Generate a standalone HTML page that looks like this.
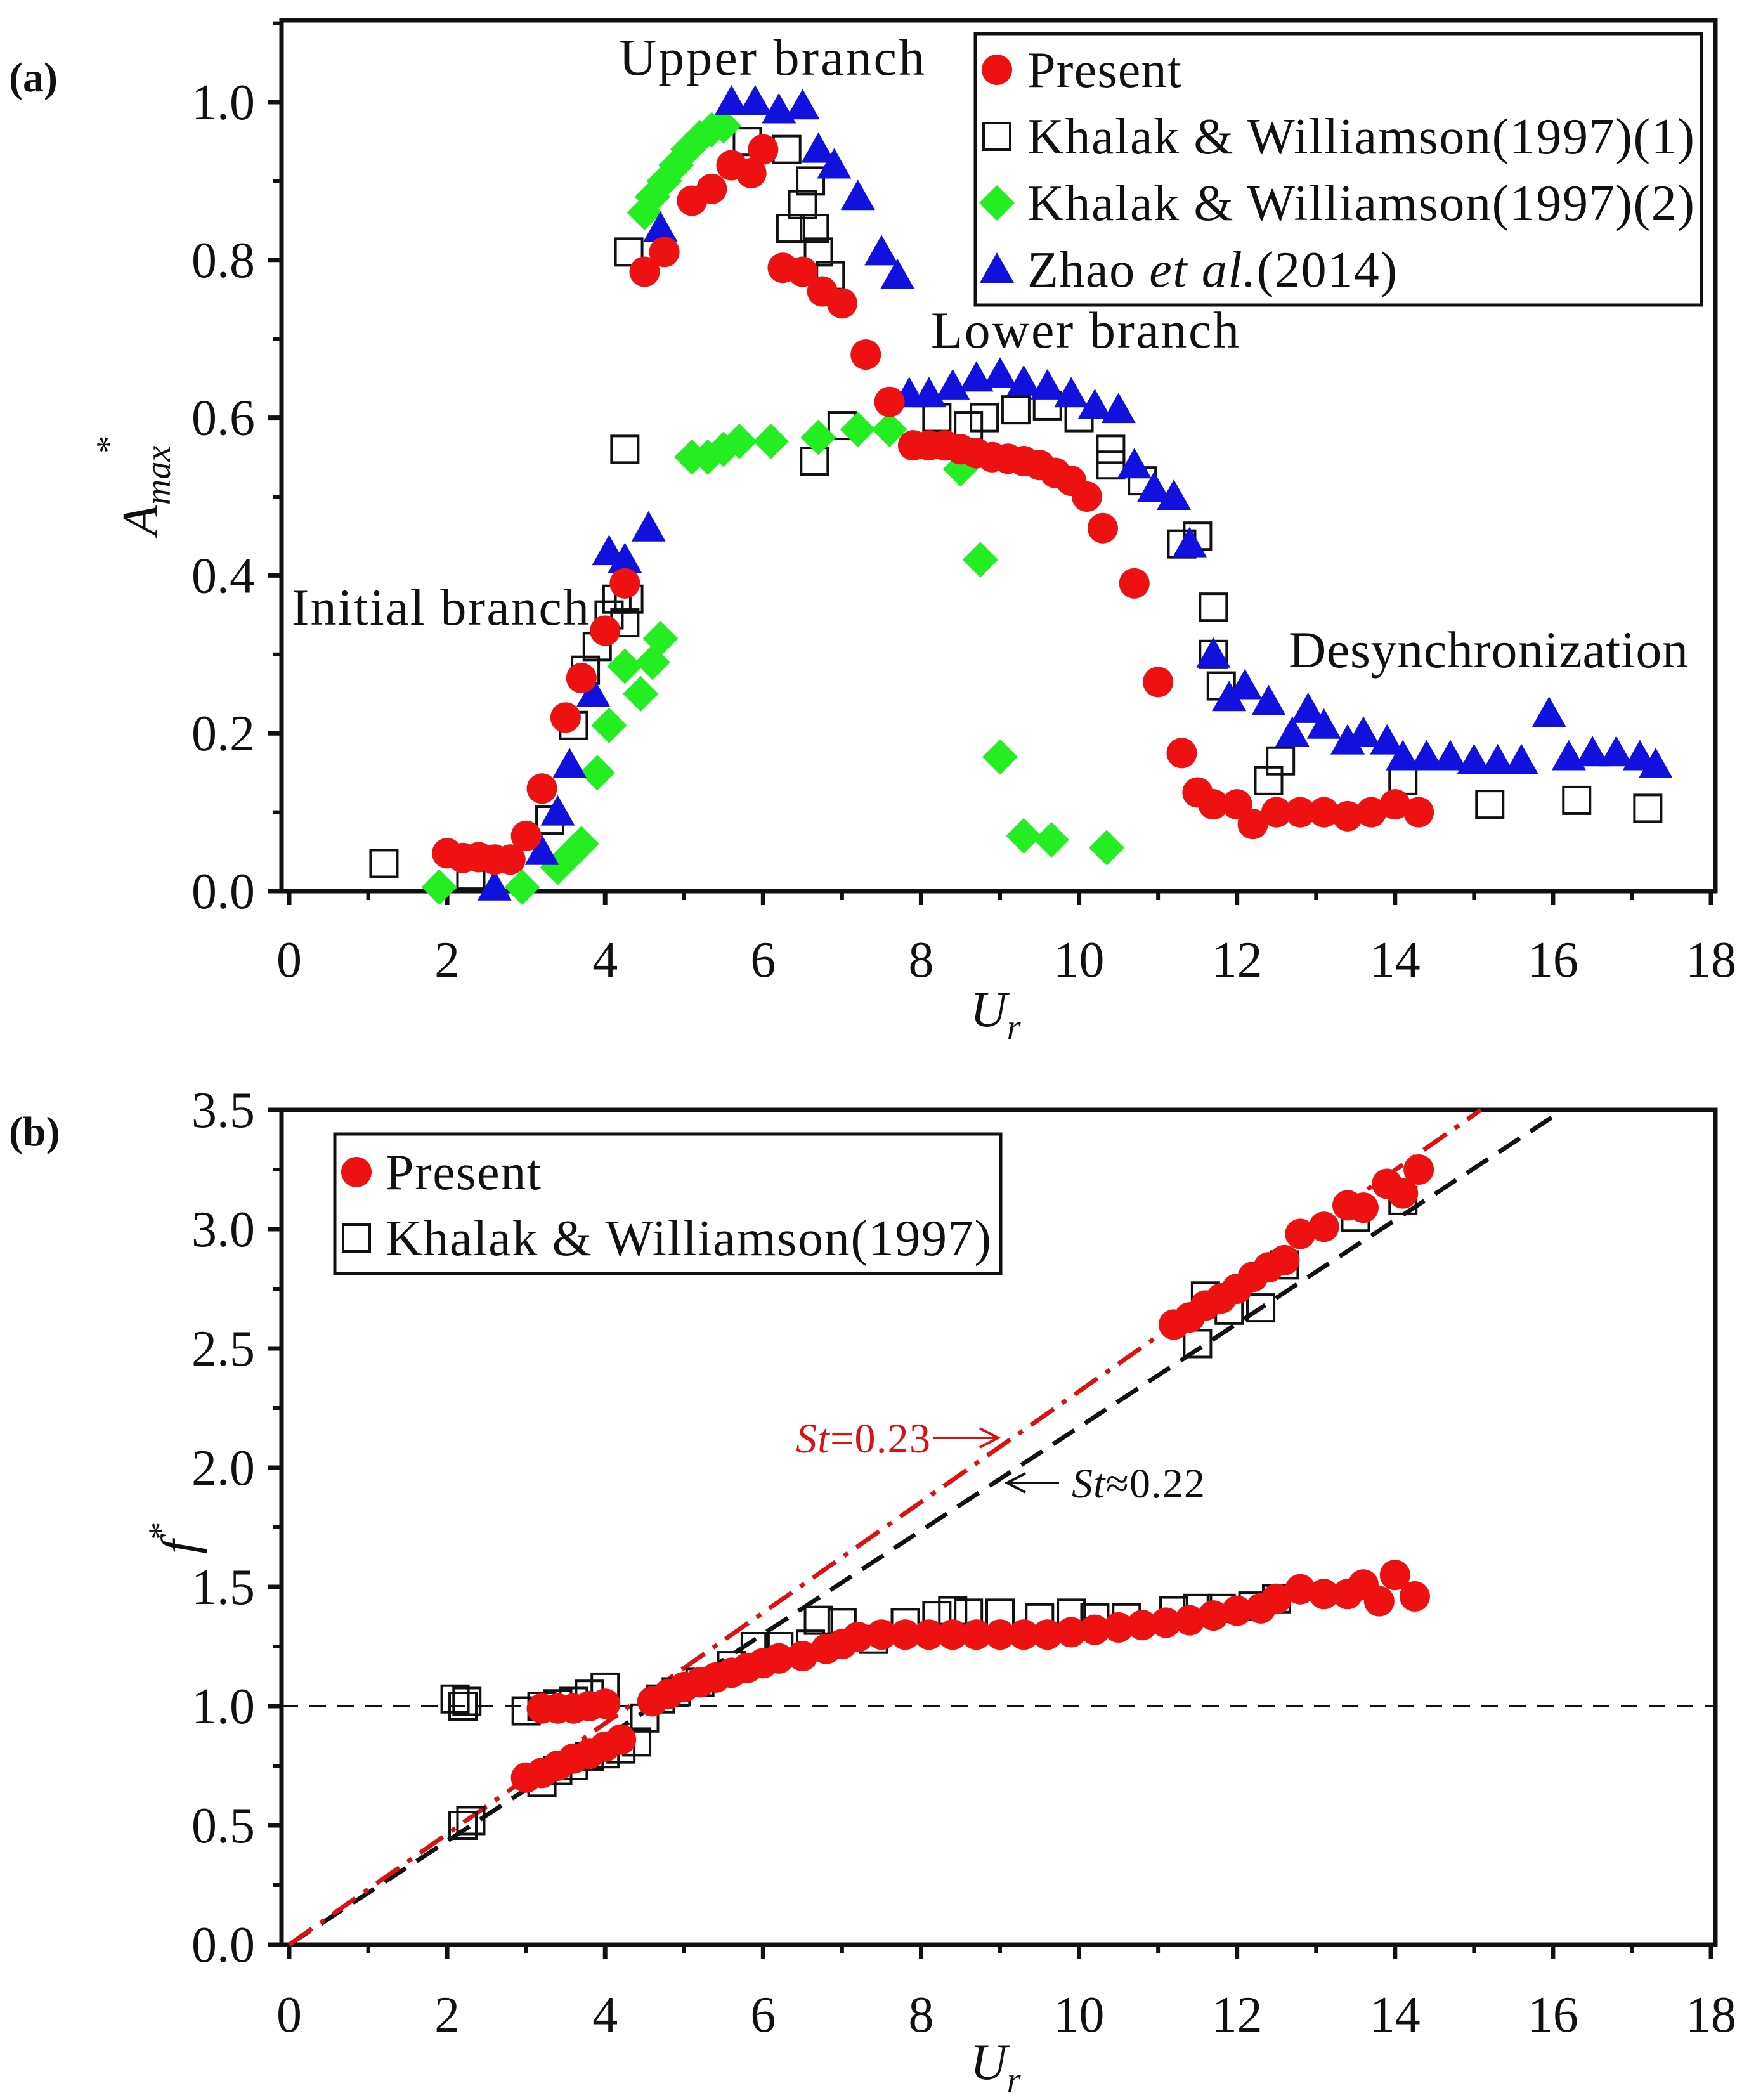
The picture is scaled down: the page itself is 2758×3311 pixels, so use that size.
<!DOCTYPE html>
<html><head><meta charset="utf-8"><style>
html,body{margin:0;padding:0;background:#fff}
svg{display:block}
text{font-family:"Liberation Serif",serif;fill:#111}
</style></head><body>
<svg id="fig" xmlns="http://www.w3.org/2000/svg" width="2758" height="3311" viewBox="0 0 2758 3311">
<g id="pa"></g>
<g id="pb"></g>
</svg>
<script>
// ---------- Panel (a) data ----------
const aPresentX=[2.0,2.2,2.4,2.6,2.8,3.0,3.2,3.5,3.7,4.0,4.25,4.5,4.75,5.1,5.35,5.6,5.85,6.0,6.25,6.5,6.75,7.0,7.3,7.6,7.9,8.1,8.3,8.5,8.7,8.9,9.1,9.3,9.5,9.7,9.9,10.1,10.3,10.7,11.0,11.3,11.5,11.7,12.0,12.2,12.5,12.8,13.1,13.4,13.7,14.0,14.3];
const aPresentY=[0.048,0.042,0.043,0.04,0.04,0.07,0.13,0.22,0.27,0.33,0.39,0.785,0.81,0.875,0.89,0.92,0.91,0.94,0.79,0.785,0.76,0.745,0.68,0.62,0.565,0.565,0.565,0.56,0.555,0.55,0.548,0.545,0.54,0.53,0.52,0.5,0.46,0.39,0.265,0.175,0.125,0.11,0.11,0.085,0.1,0.1,0.1,0.095,0.1,0.11,0.1];
const aKW1X=[1.2,2.3,3.3,3.6,3.75,3.9,4.05,4.15,4.25,4.3,4.3,4.25,5.8,6.3,6.35,6.5,6.6,6.65,6.7,6.85,6.65,7.0,8.2,8.6,8.8,9.2,9.6,10.0,10.4,10.4,10.8,11.3,11.5,11.7,11.7,11.8,12.4,12.55,14.1,15.2,16.3,17.2];
const aKW1Y=[0.035,0.02,0.09,0.21,0.28,0.31,0.35,0.37,0.34,0.37,0.81,0.56,0.95,0.94,0.84,0.87,0.9,0.84,0.81,0.78,0.545,0.59,0.6,0.59,0.6,0.61,0.615,0.6,0.56,0.54,0.52,0.44,0.45,0.36,0.3,0.26,0.14,0.165,0.14,0.11,0.115,0.105];
const aKW2X=[1.9,2.95,3.4,3.6,3.7,3.9,4.05,4.25,4.45,4.6,4.7,4.5,4.6,4.75,4.9,5.05,5.2,5.35,5.5,5.1,5.3,5.5,5.7,6.1,6.7,7.2,7.6,8.5,8.75,9.0,9.3,9.65,10.35];
const aKW2Y=[0.005,0.005,0.03,0.05,0.06,0.15,0.21,0.285,0.25,0.29,0.32,0.86,0.88,0.9,0.92,0.94,0.955,0.965,0.97,0.55,0.55,0.56,0.57,0.57,0.575,0.585,0.585,0.535,0.42,0.17,0.07,0.065,0.055];
const aZhaoX=[2.6,3.2,3.4,3.55,3.85,4.05,4.25,4.55,4.7,5.6,5.9,6.2,6.5,6.7,6.9,7.2,7.5,7.7,7.85,8.1,8.4,8.7,9.0,9.3,9.6,9.9,10.2,10.5,10.7,10.95,11.2,11.4,11.7,11.9,12.1,12.4,12.7,12.9,13.1,13.4,13.6,13.9,14.1,14.4,14.7,15.0,15.3,15.6,15.95,16.2,16.5,16.8,17.1,17.3];
const aZhaoY=[0.005,0.05,0.1,0.16,0.25,0.43,0.42,0.46,0.84,1.0,1.0,0.99,0.995,0.94,0.92,0.88,0.81,0.78,0.63,0.63,0.64,0.65,0.655,0.645,0.64,0.63,0.615,0.61,0.54,0.51,0.5,0.44,0.3,0.245,0.26,0.24,0.2,0.23,0.21,0.19,0.2,0.19,0.17,0.17,0.17,0.165,0.165,0.165,0.225,0.17,0.175,0.175,0.17,0.16];
const aXTicks=[0,2,4,6,8,10,12,14,16,18];
const aYTicks=[0.0,0.2,0.4,0.6,0.8,1.0];
// ---------- Panel (b) data ----------
const bPresentX=[3.0,3.2,3.4,3.6,3.8,4.0,4.2,3.2,3.4,3.6,3.8,4.0,4.6,4.8,5.0,5.2,5.4,5.6,5.8,6.0,6.2,6.5,6.8,7.0,7.2,7.5,7.8,8.1,8.4,8.7,9.0,9.3,9.6,9.9,10.2,10.5,10.8,11.1,11.4,11.7,12.0,12.3,12.5,12.8,13.1,13.4,13.6,13.8,14.0,14.25,11.2,11.4,11.6,11.8,12.0,12.2,12.4,12.6,12.8,13.1,13.4,13.6,13.9,14.1,14.3];
const bPresentY=[0.7,0.72,0.75,0.78,0.8,0.83,0.86,0.99,0.99,0.99,1.0,1.01,1.02,1.05,1.08,1.1,1.12,1.14,1.16,1.18,1.2,1.21,1.24,1.26,1.29,1.3,1.3,1.3,1.3,1.3,1.3,1.3,1.3,1.31,1.32,1.33,1.34,1.35,1.36,1.38,1.4,1.41,1.45,1.49,1.47,1.47,1.51,1.44,1.55,1.46,2.6,2.63,2.68,2.71,2.75,2.8,2.84,2.87,2.98,3.01,3.1,3.09,3.19,3.15,3.25];
const bKWX=[2.1,2.2,2.25,2.2,2.3,3.0,3.2,3.4,3.6,3.8,4.0,3.2,3.4,3.6,3.8,4.0,4.2,4.4,4.5,4.7,4.9,5.2,5.6,5.9,6.2,6.6,6.7,7.0,7.4,7.8,8.2,8.4,8.6,9.0,9.5,9.9,10.2,10.6,11.2,11.5,11.8,12.2,12.5,11.5,11.6,11.9,12.3,12.6,13.5,14.1];
const bKWY=[1.03,1.0,1.02,0.5,0.52,0.98,1.0,1.01,1.02,1.05,1.08,0.68,0.73,0.75,0.79,0.8,0.82,0.85,0.95,1.03,1.06,1.1,1.17,1.25,1.25,1.26,1.36,1.35,1.28,1.35,1.38,1.4,1.39,1.39,1.37,1.39,1.37,1.37,1.4,1.41,1.41,1.42,1.45,2.52,2.72,2.66,2.67,2.85,3.05,3.12];
const bStRed=[0.232];
const bStBlack=[0.217];
const bXTicks=[0,2,4,6,8,10,12,14,16,18];
const bYTicks=[0.0,0.5,1.0,1.5,2.0,2.5,3.0,3.5];

const NS='http://www.w3.org/2000/svg';
function mk(parent,tag,attrs,txt){const e=document.createElementNS(NS,tag);for(const k in attrs)e.setAttribute(k,attrs[k]);if(txt!==undefined)e.textContent=txt;parent.appendChild(e);return e;}

const L=444,R=2705,X0=456,X18=2698;
function xs(u){return X0+u*(X18-X0)/18;}
const ya=v=>1405-v*1244;
const yb=v=>3066-v*376;

function marker(g,type,cx,cy,name){
  let e;
  if(type==='circle'){e=mk(g,'circle',{cx:cx,cy:cy,r:24,fill:'#ee1111'});}
  else if(type==='square'){e=mk(g,'rect',{x:cx-21,y:cy-21,width:42,height:42,fill:'none',stroke:'#111','stroke-width':4});}
  else if(type==='diamond'){e=mk(g,'polygon',{points:`${cx},${cy-28} ${cx+28},${cy} ${cx},${cy+28} ${cx-28},${cy}`,fill:'#22ee22'});}
  else {e=mk(g,'polygon',{points:`${cx},${cy-27} ${cx+27},${cy+21} ${cx-27},${cy+21}`,fill:'#1111dd'});}
  
  
  return e;
}

function axes(g,top,bottom,yf,yTicks,yMinor,yDec,xTicks,xLabelY,ymax){
  const f=mk(g,'rect',{x:L,y:top,width:R-L,height:bottom-top,fill:'none',stroke:'#111','stroke-width':7});
  
  
  for(let u=0;u<=18;u++){
    const major=u%2===0;
    const t=mk(g,'line',{x1:xs(u),x2:xs(u),y1:bottom,y2:bottom+(major?22:14),stroke:'#111','stroke-width':major?7:6});
    
    
  }
  xTicks.forEach(v=>{
    const t=mk(g,'text',{x:xs(v),y:xLabelY,'font-size':80,'text-anchor':'middle'},String(v));
    
    
  });
  for(let v=0;v<=ymax+1e-9;v+=yMinor){
    const vv=Math.round(v*100)/100;
    const major=yTicks.some(t=>Math.abs(t-vv)<1e-6);
    const t=mk(g,'line',{x1:L-(major?22:14),x2:L,y1:yf(vv),y2:yf(vv),stroke:'#111','stroke-width':major?7:6});
    
    
  }
  yTicks.forEach(v=>{
    const t=mk(g,'text',{x:402,y:yf(v)+27,'font-size':80,'text-anchor':'end'},v.toFixed(yDec));
    
    
  });
}

// ---------- Panel A ----------
const pa=document.getElementById('pa');
axes(pa,32,1405,ya,aYTicks,0.1,1,aXTicks,1540,1.1);
mk(pa,'text',{x:14,y:144,'font-size':66,'font-weight':'bold'},'(a)');
const clipA=mk(pa,'g',{});


aKW1X.forEach((u,i)=>marker(clipA,'square',xs(u),ya(aKW1Y[i]),'kw1-point'));
aKW2X.forEach((u,i)=>marker(clipA,'diamond',xs(u),ya(aKW2Y[i]),'kw2-point'));
aZhaoX.forEach((u,i)=>marker(clipA,'triangle',xs(u),ya(aZhaoY[i]),'zhao-point'));
aPresentX.forEach((u,i)=>marker(clipA,'circle',xs(u),ya(aPresentY[i]),'present-point'));
[['Upper branch',976,118,482,'upper-branch-label'],['Lower branch',1468,548,486,'lower-branch-label'],['Initial branch',460,985,469,'initial-branch-label'],['Desynchronization',2032,1052,630,'desync-label']].forEach(a=>{
  const t=mk(pa,'text',{x:a[1],y:a[2],'font-size':82,textLength:a[3],lengthAdjust:'spacing'},a[0]);
  
  
});
const uxa=mk(pa,'text',{x:1530,y:1618,'font-size':80,'font-style':'italic'});


uxa.innerHTML='U<tspan font-size="56" dy="20">r</tspan>';
const yta=mk(pa,'text',{transform:'translate(248,845) rotate(-90)','font-size':80,'font-style':'italic'});


yta.innerHTML='A<tspan font-size="56" dy="20">max</tspan><tspan font-size="56" dy="-78" dx="-12" font-style="normal">*</tspan>';
const lga=mk(pa,'g',{});


mk(lga,'rect',{x:1538,y:53,width:1145,height:428,fill:'#fff',stroke:'#111','stroke-width':5});
const la=[['circle','Present',243],['square','Khalak &amp; Williamson(1997)(1)',1052],['diamond','Khalak &amp; Williamson(1997)(2)',1052],['triangle','Zhao <tspan font-style="italic">et al.</tspan>(2014)',583]];
la.forEach((r,i)=>{
  const cy=110+i*105;
  marker(lga,r[0],1572,cy,'legend-marker');
  const t=mk(lga,'text',{x:1620,y:cy+27,'font-size':80,textLength:r[2],lengthAdjust:'spacing'});
  t.innerHTML=r[1];
  
  
});

// ---------- Panel B ----------
const pb=document.getElementById('pb');
axes(pb,1750,3066,yb,bYTicks,0.25,1,bXTicks,3203,3.5);
mk(pb,'text',{x:14,y:1806,'font-size':66,'font-weight':'bold'},'(b)');
const hl=mk(pb,'line',{x1:L,x2:R,y1:yb(1),y2:yb(1),stroke:'#111','stroke-width':4,'stroke-dasharray':'26 18'});


function stLine(slope,color,dash,name){
  const uEnd=Math.min(18,3.5/slope);
  const l=mk(pb,'line',{x1:xs(0),y1:yb(0),x2:xs(uEnd),y2:yb(slope*uEnd),stroke:color,'stroke-width':7,'stroke-dasharray':dash});
  
  
}
stLine(bStBlack[0],'#111','40 20','st-022-line');
stLine(bStRed[0],'#dd1111','44 16 8 16','st-023-line');
const ser=mk(pb,'g',{});


bKWX.forEach((u,i)=>marker(ser,'square',xs(u),yb(bKWY[i]),'kw-point'));
bPresentX.forEach((u,i)=>marker(ser,'circle',xs(u),yb(bPresentY[i]),'present-point'));
const an1=mk(pb,'text',{x:1255,y:2290,'font-size':66,fill:'#dd1111',textLength:212,lengthAdjust:'spacing'});
an1.innerHTML='<tspan font-style="italic" fill="#dd1111">St</tspan><tspan fill="#dd1111">=0.23</tspan>';


mk(pb,'path',{d:'M1472 2267 H1572 M1545 2252 L1574 2267 L1545 2282',stroke:'#dd1111','stroke-width':4,fill:'none'});
mk(pb,'path',{d:'M1590 2338 H1670 M1617 2323 L1588 2338 L1617 2353',stroke:'#111','stroke-width':4,fill:'none'});
const an2=mk(pb,'text',{x:1690,y:2361,'font-size':66,textLength:210,lengthAdjust:'spacing'});
an2.innerHTML='<tspan font-style="italic">St</tspan>≈0.22';


const uxb=mk(pb,'text',{x:1530,y:3278,'font-size':80,'font-style':'italic'});


uxb.innerHTML='U<tspan font-size="56" dy="20">r</tspan>';
const ytb=mk(pb,'text',{transform:'translate(310,2450) rotate(-90)','font-size':80,'font-style':'italic'});


ytb.innerHTML='f<tspan font-size="56" dy="-38" font-style="normal">*</tspan>';
const lgb=mk(pb,'g',{});


mk(lgb,'rect',{x:528,y:1788,width:1050,height:220,fill:'#fff',stroke:'#111','stroke-width':5});
[['circle','Present',245],['square','Khalak &amp; Williamson(1997)',955]].forEach((r,i)=>{
  const cy=1848+i*104;
  marker(lgb,r[0],562,cy,'legend-marker');
  const t=mk(lgb,'text',{x:608,y:cy+27,'font-size':80,textLength:r[2],lengthAdjust:'spacing'});
  t.innerHTML=r[1];
  
  
});
</script>
</body></html>
